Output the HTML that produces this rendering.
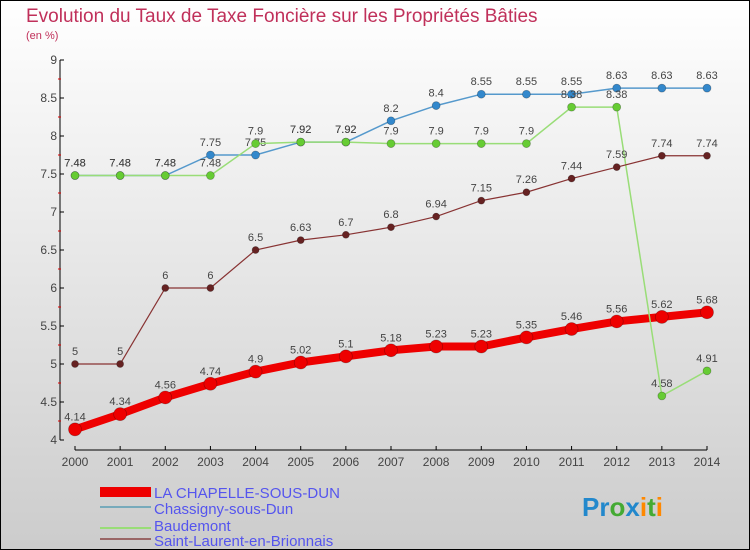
<!DOCTYPE html>
<html><head><meta charset="utf-8"><style>
body{margin:0;width:750px;height:550px;overflow:hidden}
#c{position:absolute;left:0;top:0;width:748px;height:548px;border:1px solid #000;background:linear-gradient(#fff,#ccc)}
text{font-family:"Liberation Sans",sans-serif}
</style></head><body>
<div id="c">
<svg id="s" width="750" height="550" style="position:absolute;left:-1px;top:-1px">
<text x="26" y="22" font-size="19" fill="#c0305a">Evolution du Taux de Taxe Foncière sur les Propriétés Bâties</text>
<text x="26" y="39" font-size="11" fill="#c0305a">(en %)</text>
<g id="ax"></g><g id="ser"></g>
<g>
<rect x="100" y="487" width="51" height="10" fill="#e00"/>
<text x="154" y="498" font-size="15" fill="#55e" textLength="186">LA CHAPELLE-SOUS-DUN</text>
<rect x="100" y="506" width="51" height="2" fill="#7ab"/>
<text x="154" y="514" font-size="15" fill="#55e">Chassigny-sous-Dun</text>
<rect x="100" y="527" width="51" height="2" fill="#9d7"/>
<text x="154" y="531" font-size="15" fill="#55e">Baudemont</text>
<rect x="100" y="538" width="51" height="2" fill="#966"/>
<text x="154" y="546" font-size="15" fill="#55e">Saint-Laurent-en-Brionnais</text>
</g>
<text x="582" y="516" font-size="26" font-weight="bold"><tspan fill="#28c">Pr</tspan><tspan fill="#4a3">o</tspan><tspan fill="#28c">x</tspan><tspan fill="#f80">i</tspan><tspan fill="#4a3">t</tspan><tspan fill="#f80">i</tspan></text>
</svg></div>
<script>
const years=[2000,2001,2002,2003,2004,2005,2006,2007,2008,2009,2010,2011,2012,2013,2014];
const yTicks=[4,4.5,5,5.5,6,6.5,7,7.5,8,8.5,9];
const laChapelle=[4.14,4.34,4.56,4.74,4.9,5.02,5.1,5.18,5.23,5.23,5.35,5.46,5.56,5.62,5.68];
const chassigny=[7.48,7.48,7.48,7.75,7.75,7.92,7.92,8.2,8.4,8.55,8.55,8.55,8.63,8.63,8.63];
const baudemont=[7.48,7.48,7.48,7.48,7.9,7.92,7.92,7.9,7.9,7.9,7.9,8.38,8.38,4.58,4.91];
const saintLaurent=[5,5,6,6,6.5,6.63,6.7,6.8,6.94,7.15,7.26,7.44,7.59,7.74,7.74];
const NS="http://www.w3.org/2000/svg";
const xs=i=>75+i*(707-75)/(years.length-1);
const ys=v=>440-(v-4)*76;
function mk(t,a,p){const e=document.createElementNS(NS,t);for(const k in a)e.setAttribute(k,a[k]);p.appendChild(e);return e;}
const ax=document.getElementById('ax');
let l=mk('line',{x1:60,y1:ys(9),x2:60,y2:ys(4),stroke:'#000'},ax);

yTicks.forEach((v,i)=>{mk('line',{x1:60,x2:64,y1:ys(v),y2:ys(v),stroke:'#000'},ax);
if(i<yTicks.length-1)mk('line',{x1:58,x2:61,y1:ys(v+0.25),y2:ys(v+0.25),stroke:'#d00'},ax);
const t=mk('text',{x:57,y:ys(v)+4,'font-size':12,fill:'#444','text-anchor':'end'},ax);t.textContent=v;
});
l=mk('line',{x1:75,y1:450,x2:707,y2:450,stroke:'#000'},ax);

years.forEach((y,i)=>{mk('line',{x1:xs(i),x2:xs(i),y1:446,y2:450,stroke:'#000'},ax);
const t=mk('text',{x:xs(i),y:466,'font-size':12,fill:'#444','text-anchor':'middle'},ax);t.textContent=y;
});
const ser=document.getElementById('ser');
function series(name,vals,col,w,r,pc){
const g=mk('g',{},ser);

const p=mk('polyline',{points:vals.map((v,i)=>xs(i)+','+ys(v)).join(' '),fill:'none',stroke:col,'stroke-width':w},g);

vals.forEach((v,i)=>{const c=mk('circle',{cx:xs(i),cy:ys(v),r:r,fill:pc,stroke:'rgba(0,0,0,0.3)','stroke-width':0.7},g);

const t=mk('text',{x:xs(i),y:ys(v)-9,'font-size':11,fill:'#444','text-anchor':'middle'},g);t.textContent=v;
});}
series('la-chapelle',laChapelle,'#e00',8,6.5,'#e00');
series('chassigny',chassigny,'#59c',1.5,4,'#38c');
series('baudemont',baudemont,'#9d7',1.5,4,'#6c3');
series('saint-laurent',saintLaurent,'#833',1.2,3.5,'#622');
</script></body></html>
